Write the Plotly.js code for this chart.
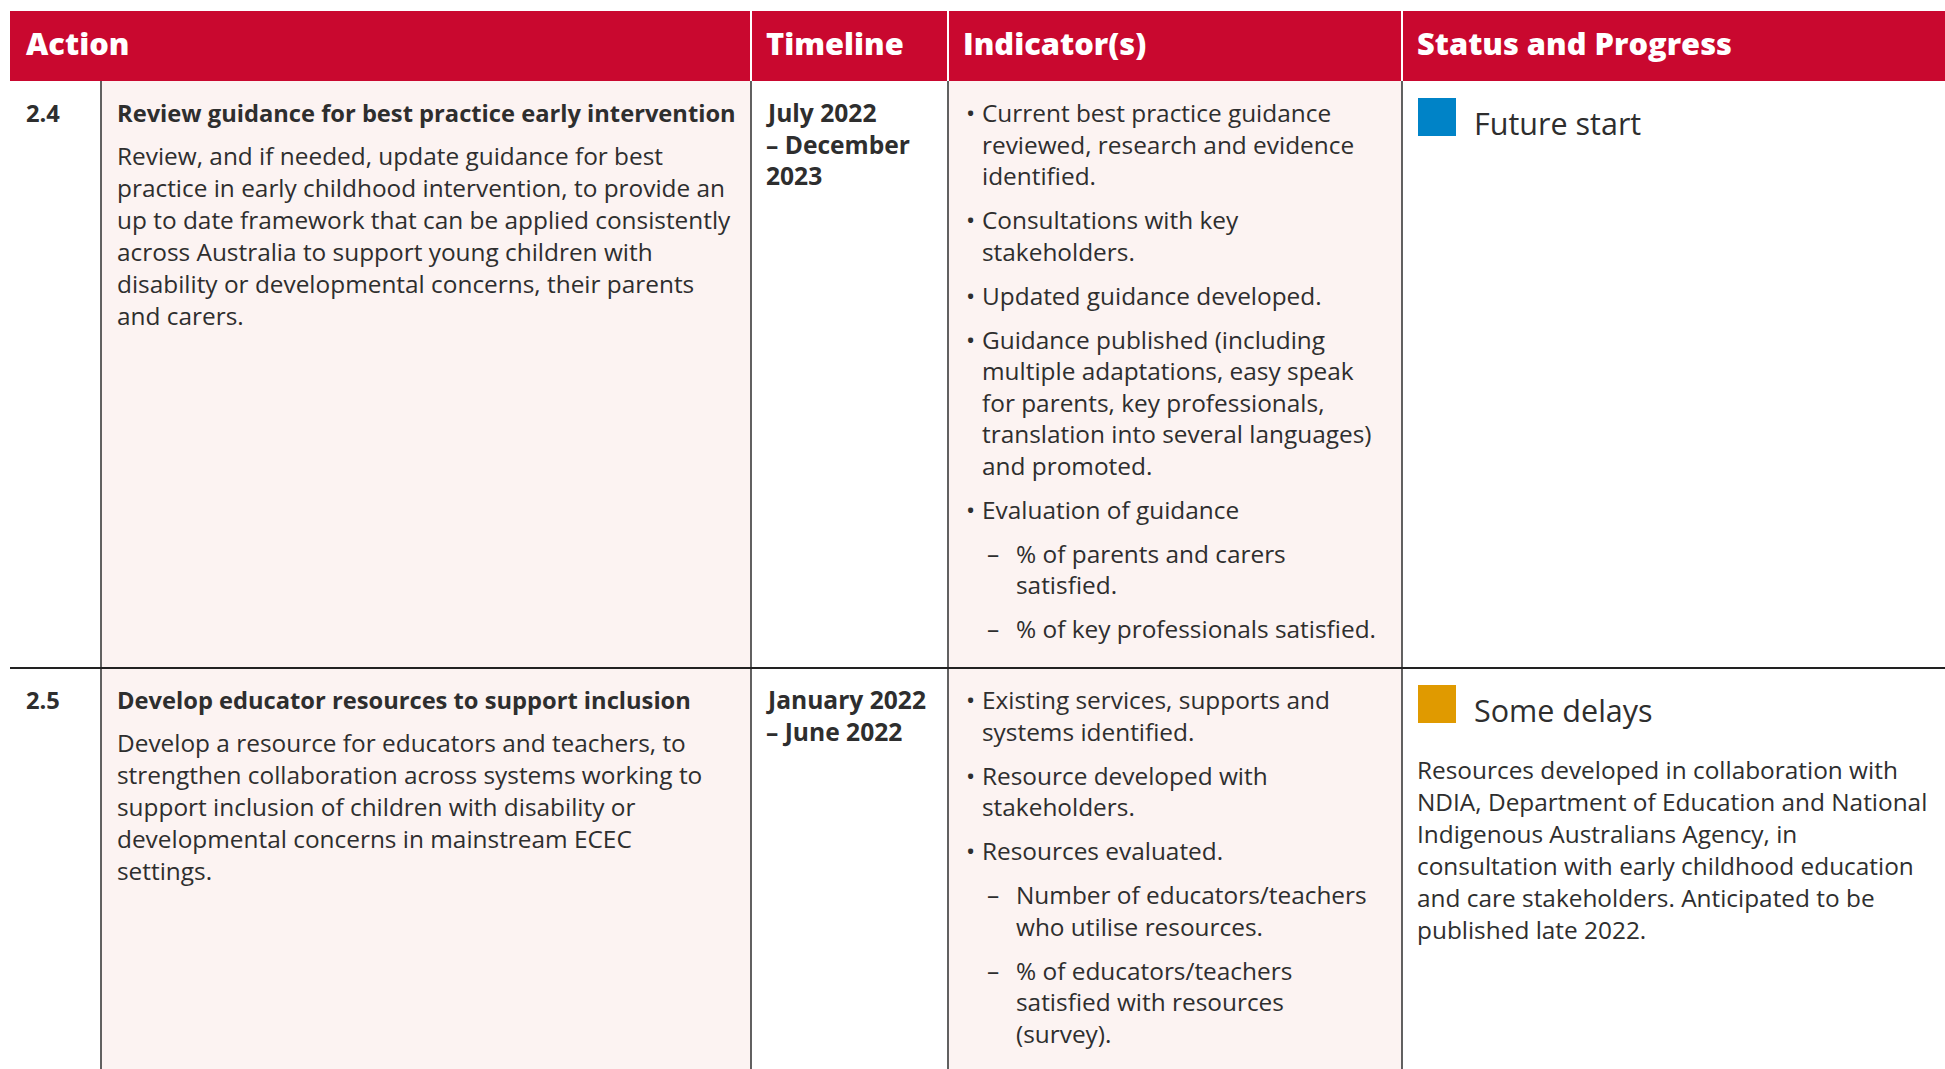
<!DOCTYPE html>
<html><head><meta charset="utf-8">
<script src="https://cdn.plot.ly/plotly-3.0.1.min.js"></script>
<style>html,body{margin:0;padding:0;background:#fff;}#chart{width:1945px;height:1069px;}</style>
</head><body><div id="chart"></div>
<script>
// ---------- content ----------
const headers = ["Action", "Timeline", "Indicator(s)", "Status and Progress"];
const actionIds = ["2.4", "2.5"];
const actionTitles = [
  "Review guidance for best practice early intervention",
  "Develop educator resources to support inclusion"
];
const actionDescriptions = [
  ["Review, and if needed, update guidance for best",
   "practice in early childhood intervention, to provide an",
   "up to date framework that can be applied consistently",
   "across Australia to support young children with",
   "disability or developmental concerns, their parents",
   "and carers."],
  ["Develop a resource for educators and teachers, to",
   "strengthen collaboration across systems working to",
   "support inclusion of children with disability or",
   "developmental concerns in mainstream ECEC",
   "settings."]
];
const timelines = [
  ["July 2022", "– December", "2023"],
  ["January 2022", "– June 2022"]
];
const indicatorLevels = [
  [1, 1, 1, 1, 1, 2, 2],
  [1, 1, 1, 2, 2]
];
const indicatorTexts = [
  [["Current best practice guidance", "reviewed, research and evidence", "identified."],
   ["Consultations with key", "stakeholders."],
   ["Updated guidance developed."],
   ["Guidance published (including", "multiple adaptations, easy speak", "for parents, key professionals,", "translation into several languages)", "and promoted."],
   ["Evaluation of guidance"],
   ["% of parents and carers", "satisfied."],
   ["% of key professionals satisfied."]],
  [["Existing services, supports and", "systems identified."],
   ["Resource developed with", "stakeholders."],
   ["Resources evaluated."],
   ["Number of educators/teachers", "who utilise resources."],
   ["% of educators/teachers", "satisfied with resources", "(survey)."]]
];
const statusLabels = ["Future start", "Some delays"];
const statusNotes = [
  [],
  ["Resources developed in collaboration with",
   "NDIA, Department of Education and National",
   "Indigenous Australians Agency, in",
   "consultation with early childhood education",
   "and care stakeholders. Anticipated to be",
   "published late 2022."]
];

// ---------- styling / geometry ----------
const W = 1945, H = 1069;
const RED = "#c9082f", PINK = "#fcf3f2", INK = "#2e2e2e", RULE = "#3a3a3a";
const statusColor = {"Future start": "#0083c7", "Some delays": "#e09a00"};
const colEdges = [10, 101, 751, 948, 1402, W];
const headerTop = 11, headerBottom = 81;
const rowTops = [81, 668];
const FONT = "'Open Sans', 'Noto Sans', sans-serif";
const BODY = 24.4, BOLD = 23.7, TIME = 24.6, HEAD = 30.8, STAT = 30.5;
const LINE = 32, ILINE = 31.5, ITEM_GAP = 12.5;
const K = 0.40; // baseline -> middle offset factor

const shapes = [];
const annotations = [];

function txt(x, baseline, text, size, weight, color) {
  annotations.push({
    x: x, y: baseline - K * size, xref: "x", yref: "y",
    text: text,
    showarrow: false, xanchor: "left", yanchor: "middle", align: "left",
    borderpad: 0,
    font: {family: FONT, size: size, color: color || INK, weight: weight || 400}
  });
}

// header band
shapes.push({type: "rect", x0: colEdges[0], x1: W, y0: headerTop, y1: headerBottom,
  fillcolor: RED, line: {width: 0}, layer: "below"});
// pink columns
[[colEdges[1], colEdges[2]], [colEdges[3], colEdges[4]]].forEach(([a, b]) => {
  shapes.push({type: "rect", x0: a, x1: b, y0: headerBottom, y1: H,
    fillcolor: PINK, line: {width: 0}, layer: "below"});
});
// header separators (white)
[colEdges[2], colEdges[3], colEdges[4]].forEach(x => {
  shapes.push({type: "line", x0: x, x1: x, y0: headerTop, y1: headerBottom,
    line: {color: "#ffffff", width: 2}});
});
// body vertical rules
[colEdges[1], colEdges[2], colEdges[3], colEdges[4]].forEach(x => {
  shapes.push({type: "line", x0: x, x1: x, y0: headerBottom, y1: H,
    line: {color: RULE, width: 1.6}});
});
// row separators
rowTops.slice(1).forEach(y => {
  shapes.push({type: "line", x0: colEdges[0], x1: W, y0: y, y1: y,
    line: {color: "#222222", width: 2}});
});

// header texts
const headerX = [25, 765, 962, 1416];
headers.forEach((h, i) => txt(headerX[i], 55, h, HEAD, 800, "#ffffff"));

// rows
actionIds.forEach((id, r) => {
  const top = rowTops[r];
  const b0 = top + 41.5;
  txt(25, b0, id, BOLD, 700);
  txt(116, b0, actionTitles[r], BOLD, 700);
  actionDescriptions[r].forEach((ln, j) => txt(116, b0 + 43 + j * LINE, ln, BODY));
  timelines[r].forEach((ln, j) => txt(765, b0 + j * 31.5, ln, TIME, 700));

  let b = b0;
  indicatorTexts[r].forEach((lines, k) => {
    const lvl = indicatorLevels[r][k];
    if (lvl === 1) txt(965, b, "•", BODY);
    else txt(986, b, "–", BODY);
    const tx = lvl === 1 ? 981 : 1015;
    lines.forEach((ln, j) => txt(tx, b + j * ILINE, ln, BODY));
    b += lines.length * ILINE + ITEM_GAP;
  });

  const lab = statusLabels[r];
  shapes.push({type: "rect", x0: 1418, x1: 1456, y0: top + 17, y1: top + 55,
    fillcolor: statusColor[lab], line: {width: 0}});
  txt(1473, top + 54, lab, STAT);
  statusNotes[r].forEach((ln, j) => txt(1416, top + 111 + j * LINE, ln, BODY));
});

const layout = {
  width: W, height: H,
  margin: {l: 0, r: 0, t: 0, b: 0, pad: 0},
  paper_bgcolor: "#ffffff", plot_bgcolor: "#ffffff",
  xaxis: {range: [0, W], visible: false, fixedrange: true},
  yaxis: {range: [H, 0], visible: false, fixedrange: true},
  showlegend: false,
  shapes: shapes,
  annotations: annotations
};

Plotly.newPlot("chart", [{x: [], y: [], type: "scatter", mode: "markers", hoverinfo: "skip"}], layout,
  {displayModeBar: false, staticPlot: true});
</script>
</body></html>
